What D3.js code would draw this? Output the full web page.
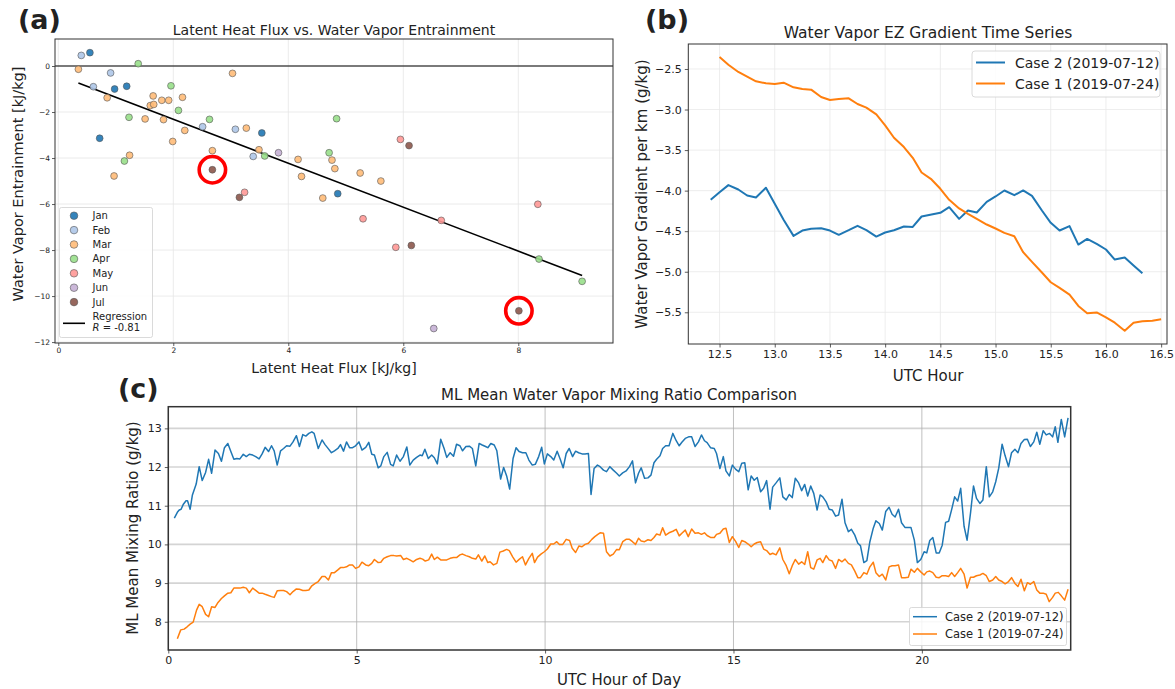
<!DOCTYPE html>
<html><head><meta charset="utf-8">
<script src="https://cdn.jsdelivr.net/npm/d3@7"></script>
<style>
body{margin:0;background:#fff}
svg{display:block}
text{font-family:"DejaVu Sans",sans-serif;fill:#222}
</style>
</head><body>
<svg id="fig" width="1175" height="689"></svg>
<script>
// ---------- Panel (a) data ----------
const months = ["Jan","Feb","Mar","Apr","May","Jun","Jul"];
const monthColors = ["#1f77b4","#aec7e8","#ffbb78","#98df8a","#ff9896","#c5b0d5","#8c564b"];
const latentFlux = [0.40,0.55,0.35,1.39,0.91,0.61,0.98,1.19,0.85,1.96,1.65,1.80,1.92,2.16,1.60,1.66,2.09,1.23,1.51,1.83,2.63,2.51,2.20,3.03,3.08,3.27,3.54,0.72,1.99,2.68,2.68,3.49,3.39,3.59,3.83,4.84,4.71,4.76,4.17,4.81,4.23,5.25,5.61,1.24,1.15,0.97,3.24,3.15,4.60,4.86,5.95,6.10,5.30,6.66,8.34,5.87,6.14,8.36,9.11,8.01,6.53];
const vaporEntrain = [0.46,0.58,-0.14,0.10,-0.30,-0.90,-1.00,-0.88,-1.38,-0.86,-1.30,-1.49,-1.49,-1.36,-1.72,-1.67,-1.93,-2.23,-2.30,-2.33,-2.32,-2.64,-2.80,-0.32,-2.75,-2.70,-2.91,-3.14,-3.28,-3.68,-4.51,-3.64,-3.93,-3.91,-3.77,-2.29,-3.77,-4.09,-4.06,-4.46,-4.80,-4.65,-5.00,-3.88,-4.13,-4.78,-5.49,-5.71,-5.74,-5.55,-3.19,-3.46,-6.64,-6.71,-6.01,-7.88,-7.80,-8.39,-9.36,-10.64,-11.41];
const pointMonth = ["Feb","Jan","Mar","Apr","Feb","Feb","Jan","Jan","Mar","Apr","Mar","Mar","Mar","Mar","Mar","Mar","Apr","Apr","Mar","Mar","Apr","Feb","Mar","Mar","Feb","Mar","Jan","Jan","Mar","Mar","Jul","Mar","Feb","Apr","Jun","Apr","Apr","Mar","Mar","Mar","Mar","Mar","Mar","Mar","Apr","Mar","May","Jul","Mar","Jan","May","Jul","May","May","May","May","Jul","Apr","Apr","Jul","Jun"];
const highlighted = [30, 59];           // indices of circled points
const regression = [-0.956, -0.40];     // slope, intercept
const regressionLabel = ["Regression", "R = -0.81"];
const aXTicks = [0,2,4,6,8];
const aYTicks = [0,-2,-4,-6,-8,-10,-12];

// ---------- Panel (b) data ----------
const bHoursCase2 = [12.42,12.50,12.58,12.67,12.75,12.83,12.92,13.00,13.08,13.17,13.25,13.33,13.42,13.50,13.58,13.67,13.75,13.83,13.92,14.00,14.08,14.17,14.25,14.33,14.42,14.50,14.58,14.67,14.75,14.83,14.92,15.00,15.08,15.17,15.25,15.33,15.42,15.50,15.58,15.67,15.75,15.83,15.92,16.00,16.08,16.17,16.25,16.33];
const bGradCase2 = [-4.113,-4.019,-3.932,-3.986,-4.060,-4.084,-3.965,-4.163,-4.36,-4.558,-4.492,-4.471,-4.463,-4.492,-4.545,-4.488,-4.434,-4.488,-4.566,-4.516,-4.488,-4.442,-4.447,-4.319,-4.294,-4.274,-4.204,-4.348,-4.245,-4.270,-4.138,-4.072,-3.998,-4.056,-3.998,-4.064,-4.245,-4.397,-4.492,-4.438,-4.665,-4.595,-4.660,-4.726,-4.850,-4.825,-4.924,-5.019];
const bHoursCase1 = [12.50,12.58,12.67,12.75,12.83,12.92,13.00,13.08,13.17,13.25,13.33,13.42,13.50,13.58,13.67,13.75,13.83,13.92,14.00,14.08,14.17,14.25,14.33,14.42,14.50,14.58,14.67,14.75,14.83,14.92,15.00,15.08,15.17,15.25,15.33,15.42,15.50,15.58,15.67,15.75,15.83,15.92,16.00,16.08,16.17,16.25,16.33,16.42,16.50];
const bGradCase1 = [-2.352,-2.447,-2.537,-2.595,-2.652,-2.677,-2.685,-2.669,-2.726,-2.747,-2.755,-2.846,-2.883,-2.871,-2.862,-2.932,-2.977,-3.060,-3.195,-3.348,-3.463,-3.595,-3.776,-3.862,-3.977,-4.113,-4.220,-4.286,-4.348,-4.418,-4.467,-4.521,-4.562,-4.759,-4.879,-5.010,-5.130,-5.200,-5.282,-5.422,-5.512,-5.504,-5.562,-5.628,-5.727,-5.628,-5.611,-5.603,-5.586];
const bXTicks = [12.5,13.0,13.5,14.0,14.5,15.0,15.5,16.0,16.5];
const bYTicks = [-2.5,-3.0,-3.5,-4.0,-4.5,-5.0,-5.5];

// ---------- Panel (c) data ([UTC hour, mixing ratio g/kg]) ----------
const cCase2 = [[0.16,10.68],[0.24,10.83],[0.29,10.89],[0.34,10.91],[0.40,11.04],[0.47,11.13],[0.51,11.13],[0.58,10.91],[0.64,11.28],[0.74,11.56],[0.82,12.01],[0.90,11.65],[0.99,11.86],[1.07,12.20],[1.15,11.84],[1.24,12.44],[1.33,12.35],[1.41,12.15],[1.49,12.50],[1.58,12.61],[1.66,12.40],[1.74,12.20],[1.82,12.22],[1.90,12.21],[1.99,12.33],[2.07,12.27],[2.15,12.33],[2.24,12.31],[2.32,12.27],[2.41,12.21],[2.49,12.34],[2.57,12.51],[2.66,12.40],[2.74,12.55],[2.81,12.42],[2.89,12.05],[2.98,12.42],[3.06,12.48],[3.14,12.55],[3.23,12.54],[3.31,12.65],[3.40,12.81],[3.48,12.53],[3.57,12.84],[3.65,12.80],[3.73,12.87],[3.81,12.91],[3.87,12.87],[3.98,12.48],[4.08,12.70],[4.16,12.58],[4.25,12.47],[4.33,12.37],[4.41,12.42],[4.50,12.48],[4.57,12.58],[4.65,12.41],[4.73,12.65],[4.81,12.50],[4.89,12.50],[4.97,12.55],[5.06,12.65],[5.14,12.44],[5.24,12.51],[5.32,12.64],[5.40,12.33],[5.47,12.31],[5.57,11.98],[5.64,12.03],[5.72,12.27],[5.81,12.38],[5.90,12.07],[5.97,12.03],[6.06,12.31],[6.15,12.15],[6.24,12.27],[6.33,12.52],[6.41,12.05],[6.50,12.18],[6.59,12.25],[6.68,12.31],[6.74,12.29],[6.81,12.46],[6.90,12.22],[6.99,12.31],[7.06,12.24],[7.14,12.08],[7.23,12.72],[7.32,12.48],[7.39,12.25],[7.48,12.37],[7.57,12.28],[7.65,12.59],[7.74,12.55],[7.81,12.42],[7.90,12.53],[7.99,12.54],[8.07,12.48],[8.16,12.03],[8.25,12.61],[8.33,12.57],[8.42,12.53],[8.48,12.50],[8.56,12.61],[8.65,12.57],[8.72,12.42],[8.82,11.69],[8.90,11.99],[8.98,11.77],[9.06,11.43],[9.15,12.22],[9.23,12.50],[9.31,12.40],[9.40,12.37],[9.49,12.37],[9.57,12.18],[9.66,12.05],[9.74,12.07],[9.83,12.27],[9.91,12.51],[9.98,12.08],[10.06,12.34],[10.15,12.27],[10.23,12.18],[10.32,12.41],[10.40,12.21],[10.48,11.98],[10.56,12.35],[10.64,12.48],[10.73,12.27],[10.81,12.41],[10.89,12.37],[10.98,12.34],[11.06,12.34],[11.15,12.35],[11.22,11.29],[11.30,11.96],[11.39,12.05],[11.46,12.01],[11.55,11.92],[11.63,11.88],[11.72,12.01],[11.81,11.92],[11.90,11.84],[11.97,11.77],[12.06,11.85],[12.15,11.90],[12.24,12.01],[12.32,12.16],[12.40,11.59],[12.48,11.84],[12.55,11.98],[12.64,11.71],[12.73,11.72],[12.81,11.79],[12.89,12.11],[12.96,12.20],[13.05,12.29],[13.12,12.48],[13.20,12.55],[13.29,12.55],[13.39,12.87],[13.48,12.68],[13.56,12.55],[13.63,12.64],[13.72,12.74],[13.81,12.78],[13.89,12.78],[13.98,12.53],[14.07,12.65],[14.15,12.83],[14.23,12.68],[14.30,12.63],[14.39,12.50],[14.49,12.48],[14.55,12.35],[14.64,11.96],[14.73,12.27],[14.80,11.90],[14.89,11.77],[14.97,12.05],[15.06,11.94],[15.14,11.88],[15.22,12.10],[15.30,12.11],[15.39,11.41],[15.47,11.77],[15.55,11.66],[15.63,11.73],[15.72,11.36],[15.80,11.45],[15.88,11.65],[15.97,10.91],[16.04,11.48],[16.13,11.59],[16.23,11.72],[16.31,11.23],[16.40,11.15],[16.48,11.29],[16.56,11.21],[16.64,11.71],[16.73,11.59],[16.81,11.39],[16.89,11.55],[16.97,11.25],[17.05,11.51],[17.13,11.32],[17.22,10.89],[17.30,11.28],[17.37,11.23],[17.46,11.10],[17.54,10.91],[17.62,10.89],[17.71,10.73],[17.79,10.76],[17.88,11.17],[17.96,10.56],[18.05,10.33],[18.13,10.39],[18.22,10.24],[18.30,10.03],[18.37,9.97],[18.46,9.53],[18.54,9.58],[18.62,10.07],[18.71,10.42],[18.78,10.61],[18.87,10.54],[18.95,10.37],[19.04,10.85],[19.13,10.96],[19.21,10.78],[19.29,10.71],[19.38,10.91],[19.46,10.56],[19.55,10.44],[19.64,10.44],[19.71,10.44],[19.80,10.11],[19.88,9.53],[19.97,9.61],[20.06,9.81],[20.13,9.78],[20.21,10.10],[20.29,10.18],[20.38,9.78],[20.46,9.78],[20.54,9.98],[20.63,10.57],[20.71,10.60],[20.79,10.90],[20.87,11.23],[20.95,11.12],[21.03,11.45],[21.12,10.47],[21.20,10.11],[21.29,10.80],[21.37,11.51],[21.45,11.19],[21.54,11.06],[21.62,11.15],[21.71,12.01],[21.79,11.23],[21.88,11.36],[21.96,11.62],[22.04,11.97],[22.13,12.59],[22.21,12.29],[22.30,12.01],[22.38,12.37],[22.47,12.46],[22.55,12.37],[22.63,12.61],[22.72,12.71],[22.80,12.72],[22.88,12.53],[22.97,12.65],[23.05,12.90],[23.13,12.59],[23.22,12.94],[23.30,12.83],[23.39,12.87],[23.47,12.78],[23.54,13.04],[23.61,12.64],[23.70,13.23],[23.79,12.78],[23.88,13.27]];
const cCase1 = [[0.24,7.56],[0.33,7.79],[0.42,7.81],[0.50,7.87],[0.58,7.94],[0.66,7.99],[0.75,8.30],[0.82,8.45],[0.90,8.39],[0.99,8.19],[1.07,8.13],[1.15,8.39],[1.24,8.37],[1.32,8.50],[1.41,8.60],[1.49,8.67],[1.58,8.74],[1.66,8.75],[1.74,8.87],[1.82,8.87],[1.90,8.87],[1.99,8.89],[2.07,8.87],[2.15,8.75],[2.24,8.87],[2.32,8.81],[2.41,8.74],[2.49,8.74],[2.57,8.71],[2.66,8.68],[2.74,8.65],[2.81,8.63],[2.89,8.80],[2.98,8.81],[3.06,8.81],[3.14,8.78],[3.23,8.70],[3.31,8.78],[3.40,8.85],[3.48,8.84],[3.57,8.81],[3.65,8.81],[3.73,8.82],[3.81,8.93],[3.90,8.99],[3.98,9.04],[4.08,9.17],[4.16,9.17],[4.25,9.08],[4.33,9.27],[4.41,9.27],[4.50,9.34],[4.57,9.40],[4.65,9.40],[4.73,9.42],[4.81,9.47],[4.89,9.47],[4.97,9.38],[5.06,9.42],[5.14,9.54],[5.24,9.47],[5.32,9.45],[5.40,9.51],[5.47,9.61],[5.57,9.53],[5.64,9.54],[5.72,9.64],[5.81,9.68],[5.90,9.71],[5.99,9.71],[6.06,9.70],[6.17,9.71],[6.24,9.61],[6.33,9.64],[6.41,9.60],[6.50,9.55],[6.59,9.61],[6.68,9.64],[6.75,9.62],[6.82,9.57],[6.91,9.60],[6.99,9.75],[7.06,9.61],[7.14,9.67],[7.23,9.60],[7.32,9.60],[7.39,9.60],[7.48,9.64],[7.57,9.66],[7.65,9.66],[7.74,9.73],[7.81,9.75],[7.90,9.71],[7.99,9.68],[8.07,9.64],[8.16,9.62],[8.23,9.73],[8.32,9.57],[8.40,9.70],[8.48,9.53],[8.54,9.55],[8.63,9.47],[8.72,9.51],[8.80,9.80],[8.89,9.83],[8.98,9.87],[9.05,9.84],[9.14,9.68],[9.23,9.54],[9.32,9.62],[9.40,9.68],[9.48,9.47],[9.57,9.64],[9.66,9.77],[9.72,9.53],[9.80,9.67],[9.89,9.75],[9.98,9.81],[10.06,9.88],[10.15,10.01],[10.23,10.01],[10.31,10.07],[10.38,10.00],[10.47,10.00],[10.56,10.13],[10.65,10.10],[10.72,9.90],[10.81,9.79],[10.90,9.96],[10.98,9.94],[11.06,10.00],[11.15,10.03],[11.24,10.13],[11.32,10.20],[11.40,10.26],[11.46,10.30],[11.55,10.29],[11.63,9.81],[11.72,9.70],[11.81,9.75],[11.90,9.87],[11.97,9.86],[12.06,10.07],[12.15,10.13],[12.24,10.13],[12.32,10.07],[12.40,10.00],[12.48,10.16],[12.55,10.09],[12.64,10.07],[12.73,10.12],[12.81,10.10],[12.89,10.18],[12.96,10.27],[13.05,10.24],[13.12,10.43],[13.20,10.24],[13.29,10.30],[13.39,10.34],[13.48,10.39],[13.56,10.22],[13.63,10.29],[13.72,10.37],[13.80,10.20],[13.89,10.40],[13.98,10.29],[14.07,10.30],[14.15,10.26],[14.23,10.30],[14.30,10.23],[14.39,10.18],[14.49,10.18],[14.55,10.26],[14.64,10.29],[14.73,10.40],[14.80,10.42],[14.89,10.05],[14.97,10.20],[15.06,10.07],[15.14,9.92],[15.22,10.10],[15.30,10.07],[15.39,10.01],[15.47,9.94],[15.55,10.01],[15.63,10.05],[15.72,10.07],[15.80,9.88],[15.88,9.84],[15.97,9.74],[16.04,9.77],[16.13,9.73],[16.23,9.91],[16.31,9.61],[16.40,9.45],[16.48,9.24],[16.56,9.45],[16.64,9.61],[16.73,9.49],[16.81,9.55],[16.89,9.48],[16.97,9.81],[17.05,9.40],[17.13,9.36],[17.22,9.60],[17.30,9.64],[17.37,9.53],[17.46,9.71],[17.54,9.60],[17.62,9.57],[17.71,9.38],[17.79,9.61],[17.88,9.55],[17.96,9.62],[18.05,9.51],[18.13,9.47],[18.22,9.31],[18.30,9.14],[18.37,9.14],[18.46,9.27],[18.54,9.23],[18.62,9.42],[18.71,9.54],[18.78,9.27],[18.87,9.17],[18.95,9.23],[19.04,9.08],[19.13,9.42],[19.21,9.45],[19.29,9.45],[19.38,9.47],[19.46,9.14],[19.55,9.14],[19.64,9.15],[19.71,9.36],[19.80,9.28],[19.88,9.38],[19.97,9.29],[20.06,9.21],[20.13,9.29],[20.21,9.31],[20.29,9.27],[20.38,9.15],[20.46,9.14],[20.54,9.19],[20.63,9.19],[20.71,9.17],[20.79,9.27],[20.87,9.17],[20.95,9.27],[21.03,9.38],[21.12,9.23],[21.20,8.87],[21.29,9.15],[21.37,9.15],[21.45,9.19],[21.54,9.21],[21.62,9.25],[21.71,9.19],[21.79,9.04],[21.88,9.08],[21.96,9.17],[22.04,9.08],[22.13,9.04],[22.21,8.98],[22.30,9.04],[22.38,9.14],[22.47,8.99],[22.55,8.91],[22.63,9.10],[22.72,8.80],[22.80,9.01],[22.88,8.97],[22.97,9.04],[23.05,8.82],[23.13,8.74],[23.22,8.74],[23.30,8.71],[23.38,8.52],[23.47,8.63],[23.54,8.74],[23.62,8.76],[23.70,8.67],[23.79,8.56],[23.88,8.84]];
const cXTicks = [0,5,10,15,20];
const cYTicks = [8,9,10,11,12,13];
const seriesNames = ["Case 2 (2019-07-12)","Case 1 (2019-07-24)"];
const seriesColors = ["#1f77b4","#ff7f0e"];

// ---------- drawing ----------
const svg = d3.select("#fig");
svg.append("rect").attr("width",1175).attr("height",689).attr("fill","#fff");
const fmtMinus = s => String(s).replace("-", "\u2212");

function styleAxis(g, fs){
  g.select(".domain").remove();
  g.selectAll("line").attr("stroke","#333").attr("stroke-width",0.8);
  g.selectAll("text").attr("font-size",fs).attr("fill","#222").attr("font-family","DejaVu Sans");
}
function frame(g, L, R, T, B, w){
  g.append("rect").attr("x",L).attr("y",T).attr("width",R-L).attr("height",B-T)
    .attr("fill","none").attr("stroke","#333").attr("stroke-width",w);
}

// ===== Panel (a) =====
{
  const L=55,R=613,T=39,B=343;
  const x=d3.scaleLinear().domain([-0.057,9.647]).range([L,R]);
  const y=d3.scaleLinear().domain([-12.04,1.174]).range([B,T]);
  const g=svg.append("g");
  g.selectAll(".gx").data(aXTicks).join("line").attr("x1",d=>x(d)).attr("x2",d=>x(d)).attr("y1",T).attr("y2",B).attr("stroke","#e6e6e6").attr("stroke-width",0.8);
  g.selectAll(".gy").data(aYTicks).join("line").attr("y1",d=>y(d)).attr("y2",d=>y(d)).attr("x1",L).attr("x2",R).attr("stroke","#e6e6e6").attr("stroke-width",0.8);
  g.append("line").attr("x1",L).attr("x2",R).attr("y1",y(0)).attr("y2",y(0)).attr("stroke","#000").attr("stroke-width",1.1);
  const xr=d3.extent(latentFlux);
  g.append("line").attr("x1",x(xr[0])).attr("y1",y(regression[0]*xr[0]+regression[1]))
   .attr("x2",x(xr[1])).attr("y2",y(regression[0]*xr[1]+regression[1]))
   .attr("stroke","#000").attr("stroke-width",1.6);
  const idx=d3.range(latentFlux.length).sort((a,b)=>months.indexOf(pointMonth[a])-months.indexOf(pointMonth[b]) || a-b);
  g.selectAll(".pt").data(idx).join("circle")
    .attr("cx",i=>x(latentFlux[i])).attr("cy",i=>y(vaporEntrain[i])).attr("r",3.4)
    .attr("fill",i=>monthColors[months.indexOf(pointMonth[i])]).attr("fill-opacity",0.9)
    .attr("stroke","#555").attr("stroke-width",0.6);
  g.selectAll(".hl").data(highlighted).join("circle")
    .attr("cx",i=>x(latentFlux[i])).attr("cy",i=>y(vaporEntrain[i])).attr("r",13.2)
    .attr("fill","none").attr("stroke","#ff0000").attr("stroke-width",3.6);
  const ax=g.append("g").attr("transform",`translate(0,${B})`).call(d3.axisBottom(x).tickValues(aXTicks).tickSize(3).tickPadding(2).tickFormat(d=>fmtMinus(d)));
  styleAxis(ax,7.5);
  const ay=g.append("g").attr("transform",`translate(${L},0)`).call(d3.axisLeft(y).tickValues(aYTicks).tickSize(3).tickPadding(2).tickFormat(d=>fmtMinus(d)));
  styleAxis(ay,7.5);
  frame(g,L,R,T,B,1);
  const lg=g.append("g");
  lg.append("rect").attr("x",59.5).attr("y",207.5).attr("width",93).attr("height",130).attr("rx",2).attr("fill","#fff").attr("fill-opacity",0.85).attr("stroke","#d0d0d0").attr("stroke-width",0.8);
  months.forEach((m,i)=>{
    const yy=215.7+i*14.4;
    lg.append("circle").attr("cx",74).attr("cy",yy).attr("r",3.8).attr("fill",monthColors[i]).attr("fill-opacity",0.9).attr("stroke","#555").attr("stroke-width",0.6);
    lg.append("text").attr("x",92.5).attr("y",yy+3.5).attr("font-size",10).text(m);
  });
  lg.append("line").attr("x1",63).attr("x2",85).attr("y1",323.3).attr("y2",323.3).attr("stroke","#000").attr("stroke-width",1.6);
  lg.append("text").attr("x",92.5).attr("y",319.5).attr("font-size",10).text(regressionLabel[0]);
  const rt=lg.append("text").attr("x",92.5).attr("y",331.2).attr("font-size",10);
  rt.append("tspan").attr("font-style","italic").text(regressionLabel[1].slice(0,1));
  rt.append("tspan").text(regressionLabel[1].slice(1));
  g.append("text").attr("x",334).attr("y",35).attr("text-anchor","middle").attr("font-size",14).text("Latent Heat Flux vs. Water Vapor Entrainment");
  g.append("text").attr("x",334).attr("y",373).attr("text-anchor","middle").attr("font-size",14).text("Latent Heat Flux [kJ/kg]");
  g.append("text").attr("transform","translate(23,184) rotate(-90)").attr("text-anchor","middle").attr("font-size",14.5).text("Water Vapor Entrainment [kJ/kg]");
}

// ===== Panel (b) =====
{
  const L=688.3,R=1167,T=44,B=344;
  const x=d3.scaleLinear().domain([12.217,16.553]).range([L,R]);
  const y=d3.scaleLinear().domain([-5.891,-2.192]).range([B,T]);
  const g=svg.append("g");
  g.selectAll(".gx").data(bXTicks).join("line").attr("x1",d=>x(d)).attr("x2",d=>x(d)).attr("y1",T).attr("y2",B).attr("stroke","#e8e8e8").attr("stroke-width",0.8);
  g.selectAll(".gy").data(bYTicks).join("line").attr("y1",d=>y(d)).attr("y2",d=>y(d)).attr("x1",L).attr("x2",R).attr("stroke","#e8e8e8").attr("stroke-width",0.8);
  const line=d3.line().x(d=>x(d[0])).y(d=>y(d[1]));
  g.append("path").datum(bHoursCase2.map((h,i)=>[h,bGradCase2[i]])).attr("d",line).attr("fill","none").attr("stroke",seriesColors[0]).attr("stroke-width",2).attr("stroke-linejoin","round");
  g.append("path").datum(bHoursCase1.map((h,i)=>[h,bGradCase1[i]])).attr("d",line).attr("fill","none").attr("stroke",seriesColors[1]).attr("stroke-width",2).attr("stroke-linejoin","round");
  const ax=g.append("g").attr("transform",`translate(0,${B})`).call(d3.axisBottom(x).tickValues(bXTicks).tickSize(3.5).tickPadding(3).tickFormat(d3.format(".1f")));
  styleAxis(ax,11);
  const ay=g.append("g").attr("transform",`translate(${L},0)`).call(d3.axisLeft(y).tickValues(bYTicks).tickSize(3.5).tickPadding(3).tickFormat(d=>fmtMinus(d3.format(".1f")(d))));
  styleAxis(ay,11);
  frame(g,L,R,T,B,1);
  const lg=g.append("g");
  lg.append("rect").attr("x",972).attr("y",51).attr("width",188).attr("height",46).attr("rx",3).attr("fill","#fff").attr("fill-opacity",0.85).attr("stroke","#d0d0d0").attr("stroke-width",0.8);
  seriesNames.forEach((s,i)=>{
    const yy=62.5+i*21;
    lg.append("line").attr("x1",976).attr("x2",1005).attr("y1",yy).attr("y2",yy).attr("stroke",seriesColors[i]).attr("stroke-width",2);
    lg.append("text").attr("x",1015).attr("y",yy+5).attr("font-size",14).text(s);
  });
  g.append("text").attr("x",928).attr("y",38).attr("text-anchor","middle").attr("font-size",15.5).text("Water Vapor EZ Gradient Time Series");
  g.append("text").attr("x",928).attr("y",381).attr("text-anchor","middle").attr("font-size",15).text("UTC Hour");
  g.append("text").attr("transform","translate(647,194) rotate(-90)").attr("text-anchor","middle").attr("font-size",15).text("Water Vapor Gradient per km (g/kg)");
}

// ===== Panel (c) =====
{
  const L=168.3,R=1070.7,T=406.7,B=650;
  const x=d3.scaleLinear().domain([0,23.95]).range([L,R]);
  const y=d3.scaleLinear().domain([7.27,13.56]).range([B,T]);
  const g=svg.append("g");
  g.selectAll(".gy").data(cYTicks).join("line").attr("y1",d=>y(d)).attr("y2",d=>y(d)).attr("x1",L).attr("x2",R).attr("stroke","#d4d4d4").attr("stroke-width",1.6);
  g.selectAll(".gx").data(cXTicks).join("line").attr("x1",d=>x(d)).attr("x2",d=>x(d)).attr("y1",T).attr("y2",B).attr("stroke","#b0b0b0").attr("stroke-width",0.8);
  const line=d3.line().x(d=>x(d[0])).y(d=>y(d[1]));
  g.append("path").datum(cCase2).attr("d",line).attr("fill","none").attr("stroke",seriesColors[0]).attr("stroke-width",1.5).attr("stroke-linejoin","round");
  g.append("path").datum(cCase1).attr("d",line).attr("fill","none").attr("stroke",seriesColors[1]).attr("stroke-width",1.5).attr("stroke-linejoin","round");
  const ax=g.append("g").attr("transform",`translate(0,${B})`).call(d3.axisBottom(x).tickValues(cXTicks).tickSize(3.5).tickPadding(3).tickFormat(d3.format("d")));
  styleAxis(ax,11);
  const ay=g.append("g").attr("transform",`translate(${L},0)`).call(d3.axisLeft(y).tickValues(cYTicks).tickSize(3.5).tickPadding(3).tickFormat(d3.format("d")));
  styleAxis(ay,11);
  frame(g,L,R,T,B,1.5);
  const lg=g.append("g");
  lg.append("rect").attr("x",909.5).attr("y",607.5).attr("width",157).attr("height",38).attr("rx",2).attr("fill","#fff").attr("fill-opacity",0.85).attr("stroke","#d0d0d0").attr("stroke-width",0.8);
  seriesNames.forEach((s,i)=>{
    const yy=616.7+i*17.3;
    lg.append("line").attr("x1",913).attr("x2",937).attr("y1",yy).attr("y2",yy).attr("stroke",seriesColors[i]).attr("stroke-width",1.5);
    lg.append("text").attr("x",945).attr("y",yy+4).attr("font-size",11.5).text(s);
  });
  g.append("text").attr("x",619).attr("y",400).attr("text-anchor","middle").attr("font-size",15).text("ML Mean Water Vapor Mixing Ratio Comparison");
  g.append("text").attr("x",619).attr("y",685).attr("text-anchor","middle").attr("font-size",15).text("UTC Hour of Day");
  g.append("text").attr("transform","translate(138,528) rotate(-90)").attr("text-anchor","middle").attr("font-size",15).text("ML Mean Mixing Ratio (g/kg)");
}

// panel letters
[["(a)",18,29],["(b)",645,29],["(c)",118,398]].forEach(([t,xx,yy])=>{
  svg.append("text").attr("x",xx).attr("y",yy).attr("font-family","Liberation Sans, Arial, sans-serif").attr("font-weight","bold").attr("font-size",27).attr("fill","#000").text(t);
});
</script>
</body></html>
